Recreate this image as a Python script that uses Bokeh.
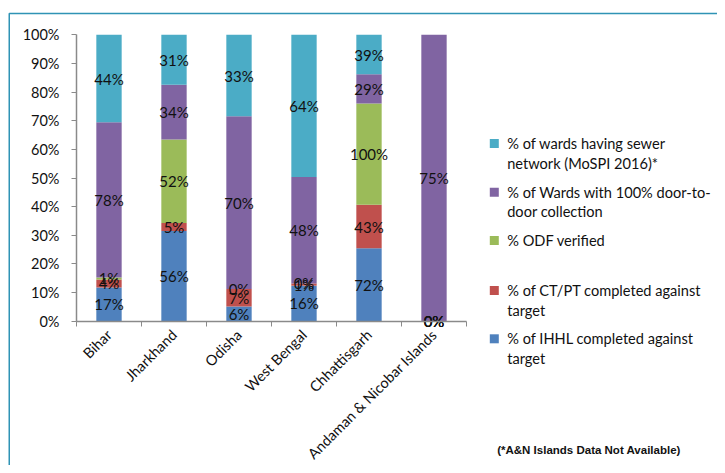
import math
from bokeh.plotting import figure
from bokeh.models import (ColumnDataSource, Range1d, FixedTicker, NumeralTickFormatter)
from bokeh.core.properties import value
from bokeh.embed import file_html
from bokeh.resources import INLINE

# ---------------- data ----------------
states = ["Bihar", "Jharkhand", "Odisha", "West Bengal", "Chhattisgarh",
          "Andaman & Nicobar Islands"]
ihhl = [17, 56, 6, 16, 72, 0]          # % of IHHL completed against target
ctpt = [4, 5, 7, 1, 43, 0]             # % of CT/PT completed against target
odf = [1, 52, 0, 0, 100, 0]            # % ODF verified
d2d = [78, 34, 70, 48, 29, 75]         # % of Wards with 100% door-to-door collection
sewer = [44, 31, 33, 64, 39, None]     # % of wards having sewer network (MoSPI 2016)*

series = [ihhl, ctpt, odf, d2d, sewer]
keys = ["ihhl", "ctpt", "odf", "d2d", "sewer"]
colors = ["#4F81BD", "#C0504D", "#9BBB59", "#8064A2", "#4BACC6"]
legend_labels = [
    ["% of wards having sewer", "network (MoSPI 2016)*"],
    ["% of Wards with 100% door-to-", "door collection"],
    ["% ODF verified"],
    ["% of CT/PT completed against", "target"],
    ["% of IHHL completed against", "target"],
]
legend_colors = ["#4BACC6", "#8064A2", "#9BBB59", "#C0504D", "#4F81BD"]
y_ticks = [i / 10 for i in range(11)]
footnote = "(*A&N Islands Data Not Available)"

# ---------------- derived (100% stacking) ----------------
n = len(states)
xs = [i + 0.5 for i in range(n)]
totals = [sum(s[i] for s in series if s[i] is not None) for i in range(n)]
data = {"x": xs}
for k, s in zip(keys, series):
    data[k] = [(s[i] or 0) / totals[i] for i in range(n)]
src = ColumnDataSource(data)

lx, ly, lt = [], [], []
for i in range(n):
    bottom = 0.0
    for s in series:
        v = s[i]
        if v is None:
            continue
        f = v / totals[i]
        lx.append(xs[i]); ly.append(bottom + f / 2); lt.append(f"{v}%")
        bottom += f
lsrc = ColumnDataSource(dict(x=lx, y=ly, t=lt))

# ---------------- layout constants (pixels) ----------------
FONT = "Lato"
AXIS_GREY = "#8a8a8a"
W, H = 717, 465
X0_PX, CAT_PX = 76.0, 65.0        # left edge of first category, pixels per category
Y0_PX, Y1_PX = 320.7, 34.3        # pixel rows of 0% and 100%
UNIT_PX = Y0_PX - Y1_PX

def px2x(px):
    return (px - X0_PX) / CAT_PX

def px2y(py):
    return (Y0_PX - py) / UNIT_PX

# frame covers the whole canvas; axes are pinned with fixed_location
p = figure(width=W, height=H,
           x_range=Range1d(px2x(0), px2x(W)), y_range=Range1d(px2y(H), px2y(0)),
           output_backend="svg", toolbar_location=None, min_border=0)
p.vbar_stack(keys, x="x", width=0.39, color=colors, line_color=None, source=src)
p.text(x="x", y="y", text="t", source=lsrc, text_align="center", text_baseline="middle",
       text_font=value(FONT), text_font_size="15px", text_color="#111111")

p.xgrid.visible = False
p.ygrid.visible = False
p.outline_line_color = None
p.background_fill_color = "white"
p.border_fill_color = "white"

yax = p.yaxis[0]
yax.fixed_location = 0
yax.bounds = (0, 1)
yax.ticker = FixedTicker(ticks=y_ticks)
yax.formatter = NumeralTickFormatter(format="0%")
yax.major_tick_in = 0
yax.major_tick_out = 5
yax.minor_tick_line_color = None
yax.axis_line_color = AXIS_GREY
yax.major_tick_line_color = AXIS_GREY
yax.axis_line_width = 1.5
yax.major_label_text_font = FONT
yax.major_label_text_font_size = "14.5px"
yax.major_label_text_color = "#111111"
yax.major_label_standoff = 12

xax = p.xaxis[0]
xax.fixed_location = 0
xax.bounds = (0, n)
xax.ticker = FixedTicker(ticks=xs, minor_ticks=list(range(n + 1)))
xax.major_label_overrides = {x: s for x, s in zip(xs, states)}
xax.major_tick_line_color = None
xax.major_tick_in = 0
xax.major_tick_out = 0
xax.minor_tick_in = 0
xax.minor_tick_out = 5
xax.minor_tick_line_color = AXIS_GREY
xax.axis_line_color = AXIS_GREY
xax.axis_line_width = 1.5
xax.major_label_orientation = math.pi / 4
xax.major_label_text_font = FONT
xax.major_label_text_font_size = "14.5px"
xax.major_label_text_color = "#111111"
xax.major_label_standoff = 6

# ---------------- outer border ----------------
p.line(x=[px2x(8.75), px2x(8.75), px2x(W + 20)], y=[px2y(H + 20), px2y(13), px2y(13)],
       line_color="#2f93b5", line_width=1.5)

# ---------------- legend ----------------
item_px = [143, 191.7, 240, 290, 338.3]
line_gap_px = 19.5
sq_x, sq_y, sq_c, tx, ty, tt = [], [], [], [], [], []
for yy, labs, c in zip(item_px, legend_labels, legend_colors):
    sq_x.append(px2x(493.8)); sq_y.append(px2y(yy)); sq_c.append(c)
    for j, lab in enumerate(labs):
        tx.append(px2x(506.7)); ty.append(px2y(yy + j * line_gap_px)); tt.append(lab)
p.rect(x=sq_x, y=sq_y, width=9, height=9, width_units="screen", height_units="screen",
       color=sq_c, line_color=None)
p.text(x=tx, y=ty, text=tt, text_align="left", text_baseline="middle",
       text_font=value(FONT), text_font_size="14.6px", text_color="#111111")
p.text(x=[px2x(496.7)], y=[px2y(449)], text=[footnote], text_align="left",
       text_baseline="middle", text_font=value("Liberation Sans"), text_font_style="bold",
       text_font_size="11.5px", text_color="#111111")

open("out.html", "w").write(file_html(p, INLINE))
